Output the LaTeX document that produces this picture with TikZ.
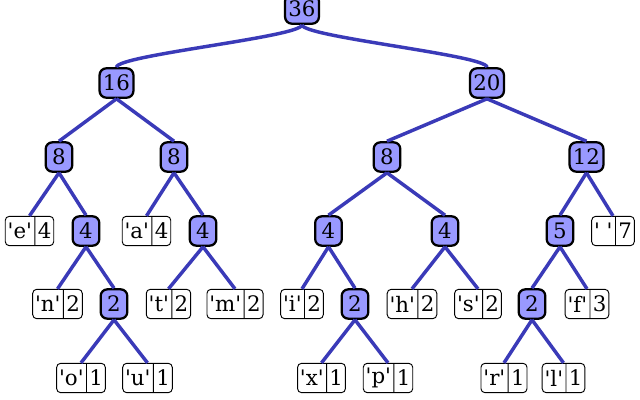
\documentclass[tikz,border=0pt]{standalone}
\usepackage{fontspec}
\newfontfamily\treefont{DejaVu Serif}
\usetikzlibrary{shapes.multipart}
\definecolor{sumfill}{RGB}{153,153,255}
\definecolor{edgeblue}{RGB}{58,58,184}
\tikzset{
sum/.style={draw, line width=1.7pt, rounded corners=5pt, fill=sumfill,
  minimum width=20pt, minimum height=22pt, inner sep=2.5pt,
  font=\treefont\fontsize{16}{18}\selectfont},
leaf/.style={rectangle split, rectangle split horizontal, rectangle split parts=2,
  draw, line width=0.7pt, rounded corners=3pt, fill=white,
  minimum height=22pt, inner xsep=1.8pt, inner ysep=2pt,
  font=\treefont\fontsize{16}{18}\selectfont},
edge/.style={draw=edgeblue, line width=2.6pt}}

\begin{document}
\begin{tikzpicture}[x=0.75pt,y=0.75pt,yscale=-1,xscale=1]
\useasboundingbox (0,0) rectangle (640,400);

%Internal nodes
\node [sum] (n36) at (302,9) {36};
\node [sum] (n16) at (116.5,83) {16};
\node [sum] (n20) at (487,83) {20};
\node [sum] (n8a) at (59,157) {8};
\node [sum] (n8b) at (174,157) {8};
\node [sum] (n8c) at (387,157) {8};
\node [sum] (n12) at (586.5,157) {12};
\node [sum] (n4a) at (86,231) {4};
\node [sum] (n4b) at (203,231) {4};
\node [sum] (n4c) at (328.5,231) {4};
\node [sum] (n4d) at (445,231) {4};
\node [sum] (n5) at (560,231) {5};
\node [sum] (n2a) at (114,304) {2};
\node [sum] (n2b) at (355,304) {2};
\node [sum] (n2c) at (532,304) {2};

%Leaves
\node [leaf] (le) at (29.5,231) {'e'\nodepart{two}4};
\node [leaf] (la) at (146.5,231) {'a'\nodepart{two}4};
\node [leaf] (lsp) at (613,231) {'\ '\nodepart{two}7};
\node [leaf] (ln) at (57.5,304) {'n'\nodepart{two}2};
\node [leaf] (lt) at (168.5,304) {'t'\nodepart{two}2};
\node [leaf] (lm) at (235,304) {'m'\nodepart{two}2};
\node [leaf] (li) at (302,304) {'i'\nodepart{two}2};
\node [leaf] (lh) at (412,304) {'h'\nodepart{two}2};
\node [leaf] (ls) at (478,304) {'s'\nodepart{two}2};
\node [leaf] (lf) at (587,304) {'f'\nodepart{two}3};
\node [leaf] (lo) at (81,378) {'o'\nodepart{two}1};
\node [leaf] (lu) at (147.5,378) {'u'\nodepart{two}1};
\node [leaf] (lx) at (321.5,378) {'x'\nodepart{two}1};
\node [leaf] (lp) at (388,378) {'p'\nodepart{two}1};
\node [leaf] (lr) at (504,378) {'r'\nodepart{two}1};
\node [leaf] (ll) at (563.5,378) {'l'\nodepart{two}1};

%Curved top edges
\draw [edge] (n36.south) .. controls +(0,12) and +(0,-12) .. (n16.north);
\draw [edge] (n36.south) .. controls +(0,12) and +(0,-12) .. (n20.north);
%Straight edges
\foreach \p/\c in {n16/n8a, n16/n8b, n20/n8c, n20/n12,
  n8a/le, n8a/n4a, n8b/la, n8b/n4b, n8c/n4c, n8c/n4d, n12/n5, n12/lsp,
  n4a/ln, n4a/n2a, n4b/lt, n4b/lm, n4c/li, n4c/n2b, n4d/lh, n4d/ls,
  n5/n2c, n5/lf, n2a/lo, n2a/lu, n2b/lx, n2b/lp, n2c/lr, n2c/ll}
  \draw [edge] (\p.south) -- (\c.north);

\end{tikzpicture}
\end{document}
